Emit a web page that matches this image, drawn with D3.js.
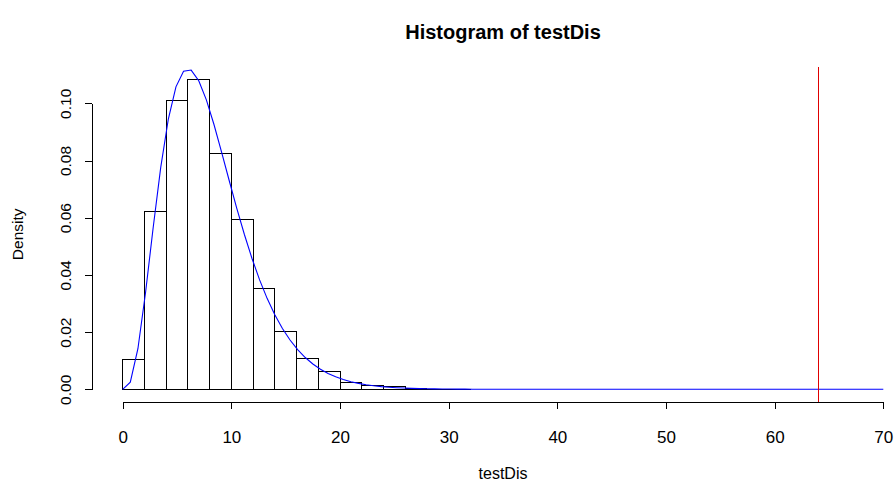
<!DOCTYPE html>
<html>
<head>
<meta charset="utf-8">
<script src="https://cdn.jsdelivr.net/npm/d3@7"></script>
<style>
  html, body { margin: 0; padding: 0; background: #fff; }
  svg { display: block; }
  text { font-family: "Liberation Sans", Arial, Helvetica, sans-serif; fill: #000; }
</style>
</head>
<body>
<svg id="chart" width="895" height="484"></svg>
<script>
// Histogram bins (width 2) and their densities
const binBreaks = [0, 2, 4, 6, 8, 10, 12, 14, 16, 18, 20, 22, 24, 26, 28, 30, 32];
const binDensity = [0.0105, 0.0620, 0.1009, 0.1084, 0.0824, 0.0593, 0.0351, 0.0203,
                    0.0107, 0.0062, 0.0025, 0.0014, 0.0009, 0.0003, 0.0001, 0.00005];

// Overlaid density curve, sampled every 0.7 from 0 to 70
const curveStep = 0.7;
const curveDensity = [
  0, 0.00252, 0.01419, 0.03376, 0.05639, 0.07761, 0.09451, 0.10576, 0.11124, 0.11162,
  0.10789, 0.10120, 0.09259, 0.08295, 0.07301, 0.06328, 0.05412, 0.04574, 0.03826, 0.03171,
  0.02607, 0.02126, 0.01723, 0.01387, 0.01111, 0.00885, 0.00701, 0.00553, 0.00435, 0.00341,
  0.00266, 0.00207, 0.00160, 0.00124, 0.00095, 0.00073, 0.00056, 0.00043, 0.00033, 0.00025,
  0.00019, 0.00014, 0.00011, 0.00008, 0.00006, 0.00005, 0, 0, 0, 0,
  0, 0, 0, 0, 0, 0, 0, 0, 0, 0,
  0, 0, 0, 0, 0, 0, 0, 0, 0, 0,
  0, 0, 0, 0, 0, 0, 0, 0, 0, 0,
  0, 0, 0, 0, 0, 0, 0, 0, 0, 0,
  0, 0, 0, 0, 0, 0, 0, 0, 0, 0,
  0
];

// Observed statistic marked with a vertical line
const observedValue = 64;

// Axis ticks
const xTicks = [0, 10, 20, 30, 40, 50, 60, 70];
const yTicks = [0, 0.02, 0.04, 0.06, 0.08, 0.10];

const titleText = "Histogram of testDis";
const xLabel = "testDis";
const yLabel = "Density";

const svg = d3.select("#chart");

const x = d3.scaleLinear().domain([0, 70]).range([122.7, 883.3]);
const y = d3.scaleLinear().domain([0, 0.1]).range([389.3, 103.3]);

// plot region extends 4% beyond the data range on each side
const yMax = d3.max(binDensity);
const plotTop = y(yMax + 0.04 * yMax);
const plotBottom = y(-0.04 * yMax);
const plotLeft = x(-0.04 * 70);
const plotRight = x(70 + 0.04 * 70);

// bars
svg.append("g")
  .attr("shape-rendering", "crispEdges")
  .selectAll("rect")
  .data(binDensity)
  .join("rect")
  .attr("x", (d, i) => x(binBreaks[i]))
  .attr("y", d => y(d))
  .attr("width", (d, i) => x(binBreaks[i + 1]) - x(binBreaks[i]))
  .attr("height", d => y(0) - y(d))
  .attr("fill", "none")
  .attr("stroke", "#000")
  .attr("stroke-width", 1);

// density curve
const line = d3.line()
  .x((d, i) => x(i * curveStep))
  .y(d => y(d));
svg.append("path")
  .datum(curveDensity)
  .attr("d", line)
  .attr("fill", "none")
  .attr("stroke", "#0000ff")
  .attr("stroke-width", 1.1);

// observed value
svg.append("line")
  .attr("shape-rendering", "crispEdges")
  .attr("x1", x(observedValue)).attr("x2", x(observedValue))
  .attr("y1", plotTop).attr("y2", plotBottom)
  .attr("stroke", "#e00000")
  .attr("stroke-width", 1);

// x axis
const xAxis = svg.append("g")
  .attr("transform", `translate(0,${plotBottom})`)
  .call(d3.axisBottom(x).tickValues(xTicks).tickSize(7).tickSizeOuter(0).tickPadding(0)
        .tickFormat(d3.format("d")));
xAxis.selectAll(".domain, .tick line").attr("stroke", "#000").attr("shape-rendering", "crispEdges");
xAxis.selectAll(".tick text")
  .attr("y", 0).attr("dy", 0)
  .attr("transform", "translate(0,41)")
  .style("font-size", "17px");

// y axis
const yAxis = svg.append("g")
  .attr("transform", `translate(${plotLeft},0)`)
  .call(d3.axisLeft(y).tickValues(yTicks).tickSize(7).tickSizeOuter(0)
        .tickFormat(d3.format(".2f")));
yAxis.selectAll(".domain, .tick line").attr("stroke", "#000").attr("shape-rendering", "crispEdges");
yAxis.selectAll(".tick text")
  .attr("x", 0).attr("y", -21).attr("dy", 0)
  .attr("text-anchor", "middle")
  .attr("transform", "rotate(-90)")
  .style("font-size", "15.5px");
svg.selectAll(".tick text").attr("fill", "#000");
svg.selectAll("g").attr("font-family", null).attr("font-size", null);

// titles
svg.append("text")
  .attr("x", (plotLeft + plotRight) / 2)
  .attr("y", 39)
  .attr("text-anchor", "middle")
  .style("font-size", "20px")
  .style("font-weight", "bold")
  .text(titleText);

svg.append("text")
  .attr("x", (plotLeft + plotRight) / 2)
  .attr("y", 479)
  .attr("text-anchor", "middle")
  .style("font-size", "16px")
  .text(xLabel);

svg.append("text")
  .attr("transform", `translate(23,${(plotTop + plotBottom) / 2}) rotate(-90)`)
  .attr("text-anchor", "middle")
  .style("font-size", "15.5px")
  .text(yLabel);
</script>
</body>
</html>
